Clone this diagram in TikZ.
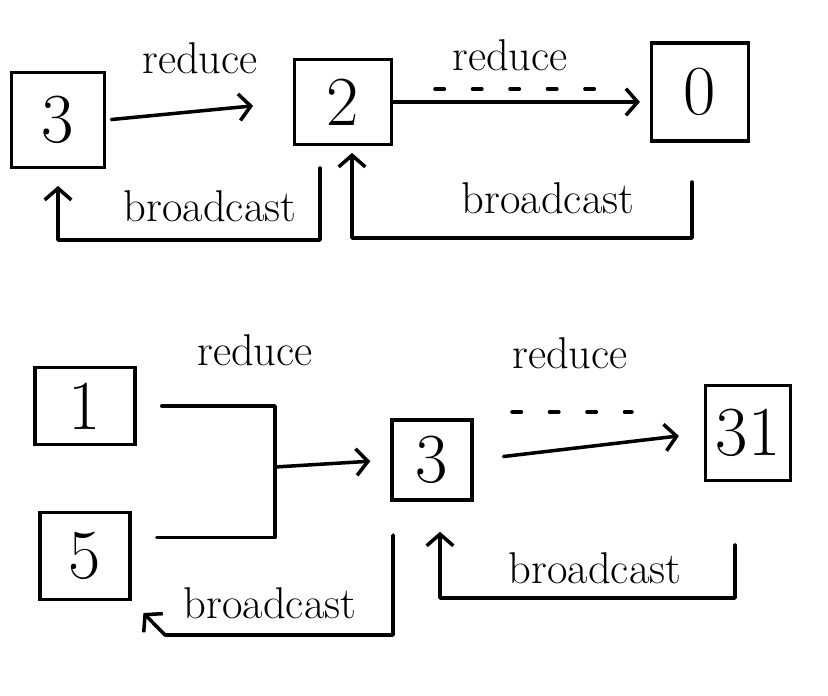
\documentclass[tikz,border=0pt]{standalone}
\usetikzlibrary{arrows.meta,positioning}
\tikzset{
  base/.style={text=black},
  cell/.style={base, draw, line width=3pt, inner sep=0pt, font=\fontsize{60}{66}\selectfont},
  opname/.style={base, font=\fontsize{38}{42}\selectfont},
  wire/.style={line width=3pt, line cap=round, line join=round},
  arrow/.style={wire, -{Straight Barb[length=3.5mm,width=8mm,line width=3pt]}},
  ticks/.style={line width=3pt, line cap=round, dash pattern=on 8pt off 24pt},
}

\begin{document}
\begin{tikzpicture}[x=0.03cm,y=-0.03cm]
  \useasboundingbox (0,0) rectangle (828,696);

  % upper chain: 3 -> 2 -> 0
  \node[cell,minimum width=2.8cm,minimum height=2.85cm] (a3) at (58,120) {3};
  \node[cell,minimum width=2.9cm,minimum height=2.55cm] (a2) at (343,102) {2};
  \node[cell,minimum width=2.9cm,minimum height=2.95cm] (a0) at (700,92) {0};

  \node[opname] (ra1) at (200,58) {reduce};
  \node[opname] (ra2) at (510,55) {reduce};
  \draw[arrow,shorten <=0.15cm,shorten >=1.2cm] (a3.east) -- (a2.west);
  \draw[arrow,shorten >=0.3cm] (a2.east) -- (a2.east -| a0.west);
  \draw[ticks] (435,89) -- (595,89);

  \coordinate (bal) at (320,168);
  \coordinate (balc) at (58,240);
  \coordinate (bar) at (692,182);
  \coordinate (barc) at (352,238);
  \draw[arrow,shorten >=0.5cm] (bal) |- (balc) -- (a3.south);
  \draw[arrow,shorten >=0.2cm] (bar) |- (barc) -- (a2.south -| barc);
  \node[opname] (ba1) at (210,206) {broadcast};
  \node[opname] (ba2) at (548,198) {broadcast};

  % lower tree: 1, 5 -> 3 -> 31
  \node[cell,minimum width=3.0cm,minimum height=2.3cm] (b1) at (85,406) {1};
  \node[cell,minimum width=2.7cm,minimum height=2.6cm] (b5) at (85,556) {5};
  \node[cell,minimum width=2.4cm,minimum height=2.4cm] (b3) at (432,460) {3};
  \node[cell,minimum width=2.55cm,minimum height=2.85cm] (b31) at (748,433) {31};

  \node[opname] (rb1) at (255,350) {reduce};
  \node[opname] (rb2) at (570,353) {reduce};
  \coordinate (bj) at (275,467);
  \draw[wire,shorten <=0.75cm] (b1.east) -| (bj);
  \draw[wire,shorten <=0.75cm] ([yshift=0.55cm]b5.east) -| (bj);
  \draw[arrow,shorten >=0.6cm] (bj) -- (b3.west);
  \draw[arrow,shorten <=0.9cm,shorten >=0.75cm] (b3.east) -- (b31.west);
  \draw[ticks] (512,412) -- (632,412);

  \coordinate (bbr) at (735,545);
  \coordinate (bbrc) at (440,598);
  \coordinate (bbl) at (393,535);
  \coordinate (bblc) at (165,635);
  \draw[arrow,shorten >=0.9cm] (bbr) |- (bbrc) -- (b3.south -| bbrc);
  \draw[arrow,shorten >=0.5cm] (bbl) |- (bblc) -- (b5.south east);
  \node[opname] (bb1) at (595,568) {broadcast};
  \node[opname] (bb2) at (270,603) {broadcast};
\end{tikzpicture}
\end{document}
